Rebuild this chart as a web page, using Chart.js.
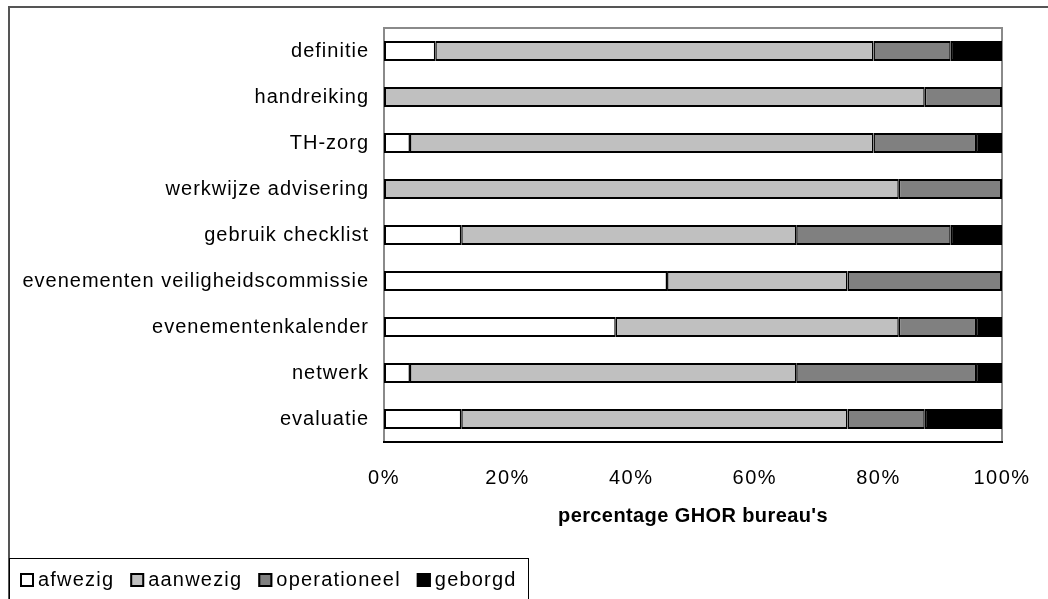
<!DOCTYPE html>
<html>
<head>
<meta charset="utf-8">
<script src="https://cdn.jsdelivr.net/npm/chart.js@4/dist/chart.umd.min.js"></script>
<style>
html,body{margin:0;padding:0;background:#fff;}
canvas{display:block;}
</style>
</head>
<body>
<canvas id="c" width="1048" height="599"></canvas>
<script>
// ---- data (percent of GHOR bureaus) ----
const categories = ['definitie','handreiking','TH-zorg','werkwijze advisering','gebruik checklist','evenementen veiligheidscommissie','evenementenkalender','netwerk','evaluatie'];
const seriesNames = ['afwezig','aanwezig','operationeel','geborgd'];
const afwezig      = [8.3, 0,    4.2,  0,    12.5, 45.8, 37.5, 4.2,  12.5];
const aanwezig     = [70.9,87.5, 75.0, 83.3, 54.2, 29.2, 45.8, 62.5, 62.5];
const operationeel = [12.5,12.5, 16.6, 16.7, 25.0, 25.0, 12.5, 29.1, 12.5];
const geborgd      = [8.3, 0,    4.2,  0,    8.3,  0,    4.2,  4.2,  12.5];
const xTicks = [0, 20, 40, 60, 80, 100];
const xTitle = "percentage GHOR bureau's";

const FONT = '"Liberation Sans", Arial, sans-serif';
const colors = ['#ffffff', '#c0c0c0', '#808080', '#000000'];
const seriesData = [afwezig, aanwezig, operationeel, geborgd];

function segBorder(ctx) {
  const i = ctx.dataIndex, d = ctx.datasetIndex;
  const sets = ctx.chart.data.datasets;
  let first = -1, last = -1;
  sets.forEach((s, k) => { if (s.data[i] > 0) { if (first < 0) first = k; last = k; } });
  return { top: 2, bottom: 2, left: d === first ? 2 : 1.5, right: d === last ? 2 : 1.5 };
}

const decor = {
  id: 'decor',
  afterLayout(chart) {
    const sp = { x: { labels: '1.5px', title: '0.4px' }, y: { labels: '1px', title: '0px' } };
    for (const id of ['x', 'y']) {
      const s = chart.scales[id];
      if (!s || s._lsWrapped) continue;
      s._lsWrapped = true;
      const dl = s.drawLabels, dt = s.drawTitle;
      s.drawLabels = function (a) { const c = this.ctx; const p = c.letterSpacing; c.letterSpacing = sp[id].labels; dl.call(this, a); c.letterSpacing = p; };
      s.drawTitle = function () { const c = this.ctx; const p = c.letterSpacing; c.letterSpacing = sp[id].title; dt.call(this); c.letterSpacing = p; };
    }
  },
  beforeDatasetsDraw(chart) {
    const { ctx, chartArea: a } = chart;
    ctx.save();
    ctx.strokeStyle = '#8a8a8a';
    ctx.lineWidth = 2;
    ctx.strokeRect(a.left, a.top, a.right - a.left, a.bottom - a.top);
    ctx.strokeStyle = '#000';
    ctx.beginPath();
    ctx.moveTo(a.left - 1, a.bottom);
    ctx.lineTo(a.right + 1, a.bottom);
    ctx.stroke();
    ctx.restore();
  },
  afterDraw(chart) {
    const ctx = chart.ctx;
    ctx.save();
    // outer frame
    ctx.strokeStyle = '#555';
    ctx.lineWidth = 2;
    ctx.beginPath();
    ctx.moveTo(9, 610);
    ctx.lineTo(9, 7);
    ctx.lineTo(1060, 7);
    ctx.stroke();
    // legend box
    ctx.strokeStyle = '#000';
    ctx.lineWidth = 1;
    ctx.strokeRect(9.5, 558.5, 519, 60);
    // legend items
    ctx.font = '20px ' + FONT;
    ctx.letterSpacing = '1.2px';
    ctx.textBaseline = 'middle';
    ctx.textAlign = 'left';
    let x = 20;
    const y = 580;
    chart.data.datasets.forEach(ds => {
      ctx.fillStyle = ds.backgroundColor;
      ctx.fillRect(x, y - 7, 14, 14);
      ctx.strokeStyle = '#000';
      ctx.lineWidth = 2;
      ctx.strokeRect(x + 1, y - 6, 12, 12);
      ctx.fillStyle = '#000';
      ctx.fillText(ds.label, x + 18, y);
      x += 18 + ctx.measureText(ds.label).width + 16;
    });
    ctx.restore();
  }
};

new Chart(document.getElementById('c'), {
  type: 'bar',
  data: {
    labels: categories,
    datasets: seriesNames.map((n, k) => ({
      label: n,
      data: seriesData[k],
      backgroundColor: colors[k],
      borderColor: '#000',
      borderWidth: segBorder,
      borderSkipped: false,
      inflateAmount: 0,
      barThickness: 20
    }))
  },
  options: {
    indexAxis: 'y',
    responsive: false,
    animation: false,
    devicePixelRatio: 1,
    layout: { padding: { top: 28, right: 46, bottom: 57, left: 0 } },
    plugins: { legend: { display: false }, tooltip: { enabled: false } },
    scales: {
      x: {
        stacked: true,
        min: 0, max: 100,
        afterBuildTicks: s => { s.ticks = xTicks.map(v => ({ value: v })); },
        afterFit: s => { s.height = 100; s.paddingLeft = 0; s.paddingRight = 0; },
        grid: { display: false, drawTicks: false },
        border: { display: false },
        ticks: {
          padding: 24,
          color: '#000',
          font: { family: FONT, size: 20 },
          callback: v => v + '%',
          maxRotation: 0
        },
        title: {
          display: true,
          text: xTitle,
          color: '#000',
          font: { family: FONT, size: 20, weight: 'bold' },
          padding: { top: 0, bottom: 14 }
        }
      },
      y: {
        stacked: true,
        afterFit: s => { s.width = 384; },
        grid: { display: false, drawTicks: false },
        border: { display: false },
        ticks: {
          padding: 15,
          color: '#000',
          font: { family: FONT, size: 20 }
        }
      }
    }
  },
  plugins: [decor]
});
</script>
</body>
</html>
